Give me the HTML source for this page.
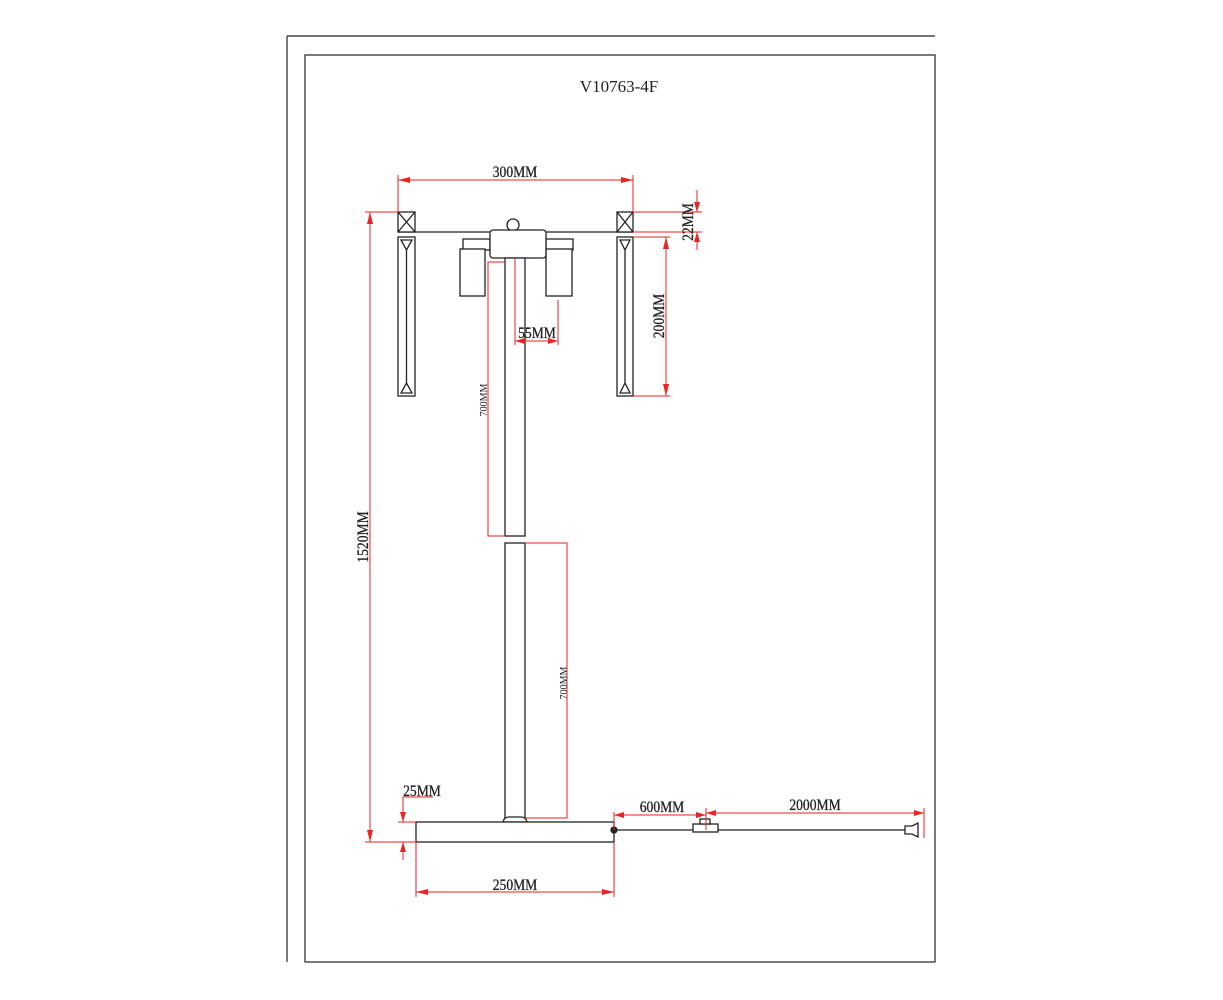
<!DOCTYPE html>
<html><head><style>html,body{margin:0;padding:0;background:#fff}svg{display:block}</style></head><body>
<svg width="1223" height="1000" viewBox="0 0 1223 1000" xmlns="http://www.w3.org/2000/svg" font-family="'Liberation Serif',serif">
<g stroke="#222" stroke-width="1.2" fill="none">
<line x1="287" y1="36" x2="935" y2="36"/>
<line x1="287" y1="36" x2="287" y2="962"/>
<rect x="305" y="55" width="630" height="907"/>
</g>
<text x="619" y="92" font-size="17" text-anchor="middle" fill="#222">V10763-4F</text>
<g stroke="#222" stroke-width="1.3" fill="#fff">
<line x1="398" y1="232" x2="633" y2="232"/>
<rect x="398" y="212" width="17" height="20"/>
<path d="M398 212 L415 232 M415 212 L398 232" fill="none"/>
<rect x="617" y="212" width="16" height="20"/>
<path d="M617 212 L633 232 M633 212 L617 232" fill="none"/>
<rect x="398" y="237" width="17" height="159"/>
<path d="M401 240 L412 240 L406.5 250 Z M401 393 L412 393 L406.5 383 Z M406.5 250 V383" fill="none"/>
<rect x="617" y="237" width="16" height="159"/>
<path d="M620 240 L630 240 L625 250 Z M620 393 L630 393 L625 383 Z M625 250 V383" fill="none"/>
<circle cx="513" cy="225" r="6"/>
<rect x="463" y="239" width="27" height="11"/>
<rect x="546" y="239" width="27" height="11"/>
<rect x="460" y="249" width="25" height="47"/>
<rect x="546" y="249" width="26" height="47"/>
<rect x="490" y="230" width="56" height="28" rx="3"/>
<rect x="505" y="258" width="20" height="278"/>
<rect x="505" y="543" width="20" height="275"/>
<path d="M503 822 Q504 817 509 817 L521 817 Q526 817 527 822 Z"/>
<rect x="416" y="822" width="198" height="20"/>
<path d="M614 830 H705 M718 830 H905" fill="none"/>
<rect x="693" y="824" width="25" height="8"/>
<rect x="700" y="819" width="10" height="5"/>
<path d="M905 826 H912 L918 823 V837 L912 834 H905 Z"/>
<circle cx="614" cy="830" r="3" fill="#222"/>
</g>
<g stroke="#e22" stroke-width="1" fill="none">
<path d="M398 175 V212 M633 175 V212 M398 180 H633"/>
<path d="M365 212 H398 M365 842 H416 M370 212 V842"/>
<path d="M633 212 H702 M633 232 H702 M697 190 V212 M697 232 V250"/>
<path d="M633 237 H670 M633 396 H670 M666 237 V396"/>
<path d="M515 258 V345 M558 300 V345 M515 341 H558"/>
<path d="M505 262 H488 V536 H505"/>
<path d="M525 543 H567 V818 H525"/>
<path d="M403 797 H433 M403 797 V822 M403 842 V860 M398 822 H416"/>
<path d="M416 842 V897 M614 842 V897 M416 892 H614"/>
<path d="M614 812 V830 M706 808 V830 M614 815 H706 M706 813 H924 M924 808 V838"/>
</g>
<g fill="#e22">
<path d="M398 180 l12 -3 v6z M633 180 l-12 -3 v6z"/>
<path d="M370 212 l-3 12 h6z M370 842 l-3 -12 h6z"/>
<path d="M697 212 l-3 -10 h6z M697 232 l-3 10 h6z"/>
<path d="M666 237 l-3 12 h6z M666 396 l-3 -12 h6z"/>
<path d="M515 341 l10 -3 v6z M558 341 l-10 -3 v6z"/>
<path d="M403 822 l-3 -10 h6z M403 842 l-3 10 h6z"/>
<path d="M416 892 l12 -3 v6z M614 892 l-12 -3 v6z"/>
<path d="M614 815 l10 -3 v6z M706 815 l-10 -3 v6z M706 813 l10 -3 v6z M924 813 l-10 -3 v6z"/>
</g>
<g fill="#222" font-size="16" stroke="#222" stroke-width="0.3">
<text transform="translate(515,177) scale(0.85,1)" text-anchor="middle">300MM</text>
<text transform="translate(537,338) scale(0.85,1)" text-anchor="middle">55MM</text>
<text transform="translate(422,796) scale(0.85,1)" text-anchor="middle">25MM</text>
<text transform="translate(515,890) scale(0.85,1)" text-anchor="middle">250MM</text>
<text transform="translate(662,812) scale(0.85,1)" text-anchor="middle">600MM</text>
<text transform="translate(815,810) scale(0.85,1)" text-anchor="middle">2000MM</text>
<text transform="translate(368,537) rotate(-90) scale(0.85,1)" text-anchor="middle">1520MM</text>
<text transform="translate(664,316) rotate(-90) scale(0.85,1)" text-anchor="middle">200MM</text>
<text transform="translate(693,222) rotate(-90) scale(0.85,1)" text-anchor="middle">22MM</text>
<text transform="translate(487,400) rotate(-90)" text-anchor="middle" font-size="10" stroke-width="0">700MM</text>
<text transform="translate(567,683) rotate(-90)" text-anchor="middle" font-size="10" stroke-width="0">700MM</text>
</g>
</svg>
</body></html>
